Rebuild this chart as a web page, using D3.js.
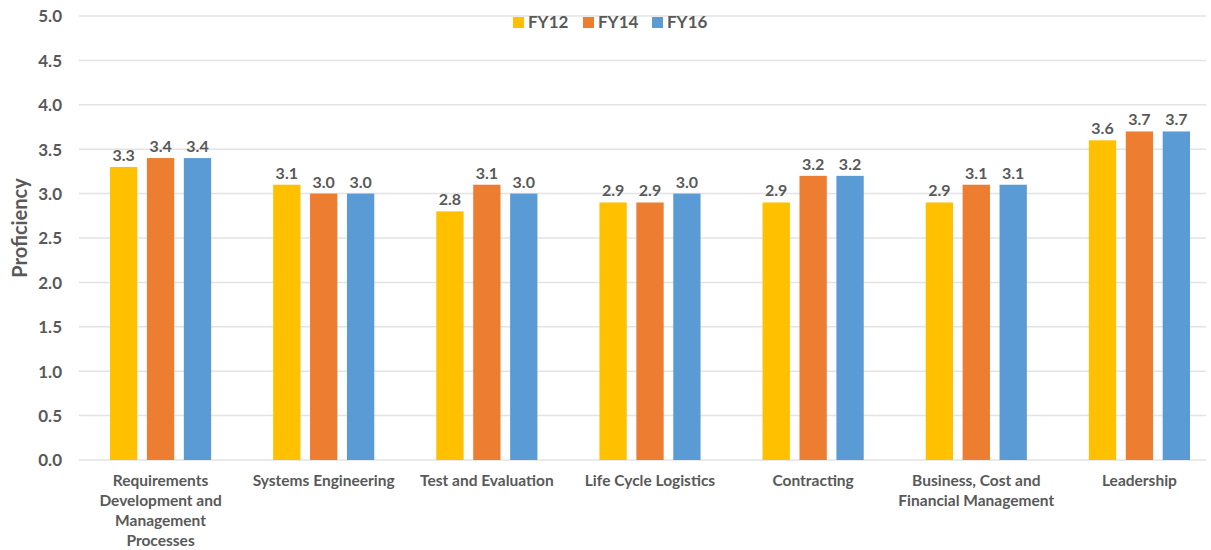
<!DOCTYPE html>
<html>
<head>
<meta charset="utf-8">
<script src="https://cdn.jsdelivr.net/npm/d3@7"></script>
<style>
  body { margin: 0; background: #fff; }
  text { font-family: Lato, "Open Sans", sans-serif; font-weight: bold; fill: #595959; }
</style>
</head>
<body>
<div id="chart"></div>
<script>
var categories = [
    ["Requirements", "Development and", "Management", "Processes"],
    ["Systems Engineering"],
    ["Test and Evaluation"],
    ["Life Cycle Logistics"],
    ["Contracting"],
    ["Business, Cost and", "Financial Management"],
    ["Leadership"]
];
var seriesNames = ["FY12", "FY14", "FY16"];
var seriesColors = ["#FFC000", "#ED7D31", "#5B9BD5"];
var fy12 = [3.3, 3.1, 2.8, 2.9, 2.9, 2.9, 3.6];
var fy14 = [3.4, 3.0, 3.1, 2.9, 3.2, 3.1, 3.7];
var fy16 = [3.4, 3.0, 3.0, 3.0, 3.2, 3.1, 3.7];
var yTicks = [0, 0.5, 1, 1.5, 2, 2.5, 3, 3.5, 4, 4.5, 5];

var series = [fy12, fy14, fy16];

var svgWidth = 1211;
var svgHeight = 550;
var margin = { top: 16, right: 5, bottom: 90, left: 79 };
var width = svgWidth - margin.left - margin.right;
var height = svgHeight - margin.top - margin.bottom;

var svg = d3.select("#chart").append("svg")
    .attr("width", svgWidth)
    .attr("height", svgHeight);

var chartGroup = svg.append("g")
    .attr("transform", `translate(${margin.left}, ${margin.top})`);

// category step is a little wider than the gridlines
var x0 = d3.scaleBand()
    .domain(d3.range(categories.length))
    .range([0, 1142]);

var x1 = d3.scaleBand()
    .domain(d3.range(seriesNames.length))
    .range([31, x0.bandwidth() - 31])
    .paddingInner(0.26);

var y = d3.scaleLinear().domain([0, 5]).range([height, 0]);

// gridlines
chartGroup.selectAll(".grid")
    .data(yTicks)
    .enter()
    .append("line")
    .attr("x1", 0)
    .attr("x2", width)
    .attr("y1", d => y(d))
    .attr("y2", d => y(d))
    .attr("stroke", "#e3e3e3")
    .attr("stroke-width", 1.5);

// y axis labels
var leftAxis = d3.axisLeft(y).tickValues(yTicks).tickFormat(d3.format(".1f")).tickSize(0).tickPadding(17);
var yAxis = chartGroup.append("g").call(leftAxis);
yAxis.select(".domain").remove();
yAxis.selectAll("text")
    .style("font-size", "17px")
    .attr("fill", "#595959")
    .attr("dy", "0.35em");

// bars
var groups = chartGroup.selectAll(".cat")
    .data(categories)
    .enter()
    .append("g")
    .attr("transform", (d, i) => `translate(${x0(i)}, 0)`);

groups.each(function(c, i) {
    var g = d3.select(this);
    series.forEach(function(s, j) {
        g.append("rect")
            .attr("x", x1(j))
            .attr("y", y(s[i]))
            .attr("width", x1.bandwidth())
            .attr("height", y(0) - y(s[i]))
            .attr("fill", seriesColors[j]);
        g.append("text")
            .attr("x", x1(j) + x1.bandwidth() / 2)
            .attr("y", y(s[i]) - 6)
            .attr("text-anchor", "middle")
            .style("font-size", "16px")
            .text(d3.format(".1f")(s[i]));
    });
    var lbl = g.append("text")
        .attr("text-anchor", "middle")
        .style("font-size", "15.5px");
    c.forEach(function(line, k) {
        lbl.append("tspan")
            .attr("x", x0.bandwidth() / 2)
            .attr("y", height + 26 + k * 20)
            .text(line);
    });
});

// y title
svg.append("text")
    .attr("transform", `translate(27, ${margin.top + height / 2 - 10}) rotate(-90)`)
    .attr("text-anchor", "middle")
    .style("font-size", "20px")
    .text("Proficiency");

// legend
var legend = svg.append("g").attr("transform", "translate(513, 22)");
var legendX = [0, 70, 139];
seriesNames.forEach(function(n, j) {
    legend.append("rect")
        .attr("x", legendX[j])
        .attr("y", -5)
        .attr("width", 11)
        .attr("height", 11)
        .attr("fill", seriesColors[j]);
    legend.append("text")
        .attr("x", legendX[j] + 15)
        .attr("y", 0)
        .attr("dy", "0.35em")
        .style("font-size", "17px")
        .text(n);
});
</script>
</body>
</html>
